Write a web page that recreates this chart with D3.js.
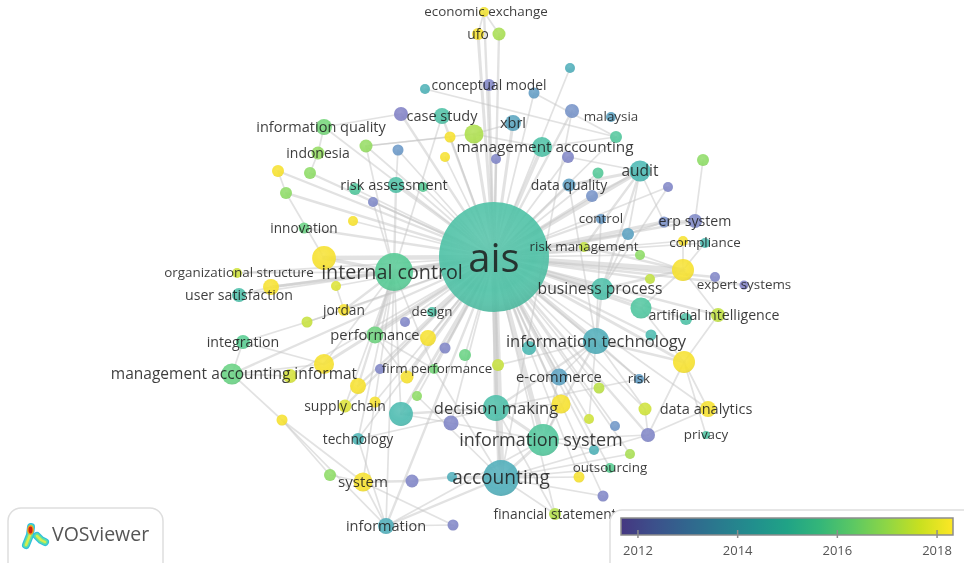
<!DOCTYPE html>
<html lang="en">
<head>
  <meta charset="utf-8">
  <title>VOSviewer overlay map</title>
  <script src="https://d3js.org/d3.v7.min.js"></script>
  <style>
    html, body { margin: 0; padding: 0; background: #fff; overflow: hidden; }
    svg { display: block; font-family: "Open Sans", sans-serif; filter: blur(0.35px); }
    .label { fill: #1c1c1c; fill-opacity: 0.86; text-anchor: middle; dominant-baseline: central; }
    .link { fill: none; stroke: #c6c6c6; stroke-opacity: 0.5; stroke-linecap: round; }
  </style>
</head>
<body>
<svg id="map" width="964" height="563"></svg>

<script>
// keywords, names starting with # are items VOSviewer left without a visible label
var keywords = [
  "economic exchange", "ufo", "#a", "conceptual model", "#b", "#c", "#d", "#e", "malaysia", "#f",
  "xbrl", "case study", "#g", "#h", "#i", "#j", "#k", "#l", "#m", "information quality",
  "indonesia", "#n", "#o", "#p", "risk assessment", "#q", "#r", "#s", "#t", "innovation",
  "#u", "internal control", "ais", "organizational structure", "management accounting", "#v", "data quality", "#w", "#x", "audit",
  "#y", "#z", "control", "#aa", "#ab", "erp system", "compliance", "#ac", "risk management", "#ad",
  "#ae", "#af", "#ag", "expert systems", "business process", "#ah", "artificial intelligence", "#ai", "#aj", "information technology",
  "#ak", "#al", "#am", "e-commerce", "risk", "#an", "decision making", "#ao", "data analytics", "#ap",
  "#aq", "#ar", "#as", "privacy", "information system", "#at", "#au", "accounting", "#av", "#aw",
  "outsourcing", "#ax", "#ay", "financial statement", "information", "#az", "system", "#ba", "technology", "#bb",
  "#bc", "#bd", "supply chain", "#be", "#bf", "#bg", "firm performance", "#bh", "#bi", "management accounting informat",
  "#bj", "#bk", "integration", "#bl", "performance", "#bm", "#bn", "#bo", "design", "#bp",
  "jordan", "#bq", "user satisfaction", "#br"
];

// map coordinates of each keyword
var mapX = [
  484, 478, 499, 489, 425, 570, 534, 572, 611, 616,
  513, 442, 401, 474, 450, 445, 496, 398, 366, 324,
  318, 278, 310, 286, 396, 355, 423, 373, 353, 304,
  324, 394, 494, 237, 542, 568, 569, 598, 592, 640,
  668, 703, 601, 628, 664, 695, 705, 683, 584, 640,
  683, 715, 650, 744, 602, 641, 718, 686, 651, 596,
  529, 684, 498, 559, 639, 599, 496, 561, 708, 645,
  589, 615, 648, 706, 543, 594, 630, 501, 452, 412,
  610, 579, 603, 555, 386, 453, 363, 330, 358, 282,
  401, 451, 345, 375, 417, 358, 434, 380, 407, 232,
  290, 324, 243, 307, 375, 428, 445, 465, 432, 405,
  344, 336, 239, 271
];
var mapY = [
  12, 34, 34, 85, 89, 68, 93, 111, 117, 137,
  123, 116, 114, 134, 137, 157, 159, 150, 146, 127,
  153, 171, 173, 193, 185, 189, 187, 202, 221, 228,
  258, 272, 257, 273, 147, 157, 185, 173, 196, 171,
  187, 160, 219, 234, 222, 221, 243, 241, 247, 255,
  270, 277, 279, 285, 289, 308, 315, 319, 335, 341,
  348, 362, 365, 377, 379, 388, 408, 404, 409, 409,
  419, 426, 435, 435, 440, 450, 454, 478, 477, 481,
  468, 477, 496, 514, 526, 525, 482, 475, 439, 420,
  414, 423, 406, 402, 396, 386, 369, 369, 377, 374,
  376, 364, 342, 322, 335, 338, 348, 355, 312, 322,
  310, 286, 295, 287
];

// occurrences set the bubble size
var occurrences = [
  2.5, 3.6, 4.2, 3.6, 2.5, 2.5, 3, 4.9, 2.5, 3.6,
  6.3, 6.3, 4.9, 9, 3, 2.5, 2.5, 3, 4.2, 6.3,
  4.2, 3.6, 3.6, 3.6, 6.3, 3.6, 2.5, 2.5, 2.5, 3,
  14, 36, 300, 2.5, 10, 3.6, 4.2, 3, 3.6, 11,
  2.5, 3.6, 2.5, 3.6, 3, 4.9, 2.5, 2.5, 2.5, 2.5,
  12, 2.5, 2.5, 2, 12, 11, 4.9, 3.6, 3, 17,
  4.9, 12, 3.6, 7.2, 2.5, 3, 17, 9, 6.3, 4.2,
  2.5, 2.5, 4.9, 1.6, 25, 2.5, 2.5, 32, 2.5, 4.2,
  2.5, 3, 3, 3.6, 6.3, 3, 9, 3.6, 3.6, 3,
  14, 5.6, 4.2, 3, 2.5, 6.3, 2.5, 2.5, 4.2, 11,
  4.9, 10, 4.9, 3, 7.2, 6.3, 3, 3.6, 2.5, 2.5,
  3.6, 2.5, 4.9, 6.3
];

// average publication year, sets the overlay colour
var avgYear = [
  2017.9, 2018, 2016.8, 2012.7, 2014.3, 2014.2, 2013.6, 2013.1, 2013.8, 2015.2,
  2013.9, 2014.9, 2012.6, 2016.9, 2018, 2018, 2012.7, 2013.4, 2016.5, 2016,
  2016.5, 2018, 2016.4, 2016.4, 2014.9, 2015.2, 2015.4, 2012.8, 2018, 2015.8,
  2018, 2015.4, 2014.9, 2017.4, 2014.9, 2012.7, 2013.7, 2015.3, 2013.1, 2014.5,
  2012.7, 2016.4, 2013.5, 2013.8, 2013, 2012.8, 2014.6, 2018, 2017.2, 2016.4,
  2018, 2012.7, 2017.2, 2012.6, 2014.8, 2015.1, 2017.2, 2014.9, 2014.6, 2014.2,
  2014.5, 2018, 2017.3, 2013.8, 2013.6, 2017.1, 2014.8, 2018, 2018, 2017.4,
  2017.4, 2013.3, 2012.7, 2015, 2015.2, 2014.3, 2016.8, 2014.2, 2014.2, 2012.7,
  2015.5, 2018, 2012.7, 2017, 2014.2, 2012.7, 2018, 2016.4, 2014.4, 2018,
  2014.6, 2012.7, 2017.6, 2018, 2016.4, 2018, 2016, 2012.7, 2018, 2015.8,
  2017.5, 2018, 2015.5, 2017.3, 2015.9, 2018, 2012.7, 2015.8, 2014.9, 2012.7,
  2018, 2017.6, 2014.8, 2018
];

// link strength between ais and the other keywords
var aisLinks = [
  ["accounting", 9], ["information system", 6], ["decision making", 5], ["internal control", 7],
  ["business process", 6], ["information technology", 5], ["#ae", 6], ["audit", 5], ["#u", 5], ["#al", 3],
  ["management accounting", 4], ["#ab", 4], ["#aa", 3], ["#x", 3], ["#ah", 3], ["#ak", 3], ["xbrl", 3], ["#h", 3],
  ["performance", 3], ["#bc", 3], ["#bk", 3], ["#n", 2], ["#p", 2], ["#o", 2], ["#bg", 2], ["e-commerce", 2],
  ["#ao", 2], ["case study", 2], ["risk assessment", 2], ["#br", 2], ["ufo", 3], ["#a", 2], ["economic exchange", 2],
  ["conceptual model", 2], ["#c", 1], ["#d", 1], ["#e", 2], ["#f", 1], ["#g", 2], ["#i", 1], ["#j", 1], ["#k", 2],
  ["#l", 1], ["#q", 1], ["#r", 1], ["#s", 1], ["#t", 1], ["innovation", 2], ["#v", 1], ["data quality", 2], ["#w", 1],
  ["#y", 1], ["control", 2], ["erp system", 2], ["compliance", 1], ["#ac", 1], ["risk management", 2], ["#ad", 1],
  ["#af", 2], ["#ag", 2], ["expert systems", 2], ["artificial intelligence", 2], ["#ai", 2], ["#aj", 2], ["#am", 2],
  ["risk", 1], ["#an", 1], ["data analytics", 1], ["#ap", 1], ["#aq", 1], ["#ar", 1], ["#as", 2], ["#at", 1], ["#au", 1],
  ["outsourcing", 1], ["#ax", 1], ["#ay", 1], ["financial statement", 1], ["information", 2], ["technology", 1],
  ["supply chain", 2], ["#be", 1], ["#bf", 1], ["firm performance", 2], ["#bh", 1], ["#bi", 2], ["#bj", 1], ["#bd", 1],
  ["#bm", 2], ["#bn", 1], ["#bo", 1], ["design", 2], ["#bp", 1], ["jordan", 2], ["#bq", 1], ["#bl", 1],
  ["management accounting informat", 2], ["information quality", 1], ["#m", 1], ["organizational structure", 1], ["user satisfaction", 1]
];

// links that do not touch ais
var otherLinks = [
  ["economic exchange", "ufo", 1], ["economic exchange", "#a", 1], ["#b", "#f", 1], ["#d", "#f", 1],
  ["information quality", "#g", 1], ["information quality", "indonesia", 1], ["indonesia", "#o", 1],
  ["#m", "#h", 1], ["#m", "#i", 1], ["#m", "internal control", 1], ["case study", "internal control", 1],
  ["#l", "risk assessment", 1], ["risk assessment", "internal control", 2], ["#s", "internal control", 1],
  ["#n", "#p", 1], ["#p", "#u", 1], ["#u", "internal control", 4], ["#br", "internal control", 3],
  ["organizational structure", "internal control", 1], ["user satisfaction", "#br", 1], ["#bq", "jordan", 1],
  ["integration", "#bl", 1], ["#bl", "jordan", 1], ["jordan", "internal control", 2], ["integration", "#bk", 1],
  ["integration", "management accounting informat", 1], ["management accounting informat", "#bk", 1],
  ["management accounting informat", "#bj", 1], ["management accounting informat", "#bb", 1],
  ["#bb", "system", 1], ["#bb", "information", 1], ["#ba", "system", 1], ["#ba", "#bb", 1],
  ["#bg", "internal control", 2], ["#bk", "internal control", 1], ["internal control", "performance", 3],
  ["internal control", "firm performance", 1], ["internal control", "#bc", 1], ["internal control", "technology", 1],
  ["internal control", "information", 1], ["internal control", "system", 1], ["supply chain", "internal control", 1],
  ["system", "#aw", 2], ["#aw", "#av", 2], ["#av", "accounting", 3], ["system", "information", 1], ["system", "#az", 1],
  ["information", "accounting", 2], ["information", "#az", 1], ["technology", "information", 1], ["technology", "decision making", 1],
  ["#bc", "decision making", 2], ["#bc", "#bd", 1], ["#bd", "information system", 1], ["accounting", "information system", 3],
  ["decision making", "information system", 3], ["accounting", "decision making", 2], ["information", "information system", 1],
  ["audit", "business process", 2], ["audit", "data quality", 3], ["audit", "risk management", 2], ["audit", "#ab", 1],
  ["audit", "#aa", 1], ["audit", "#x", 2], ["#z", "erp system", 1], ["#ae", "compliance", 1], ["#ae", "#ac", 1],
  ["#ae", "business process", 2], ["#ae", "#ah", 1], ["#ae", "artificial intelligence", 1], ["erp system", "#ab", 2],
  ["#ab", "#aa", 2], ["#aa", "business process", 1], ["#al", "artificial intelligence", 1], ["#al", "data analytics", 1],
  ["#al", "privacy", 1], ["#al", "#as", 1], ["#al", "information technology", 2], ["#al", "#ah", 1], ["data analytics", "#as", 1],
  ["#as", "#ap", 1], ["#as", "information system", 1], ["#as", "accounting", 1], ["information technology", "decision making", 2],
  ["information technology", "information system", 2], ["information technology", "business process", 2],
  ["information technology", "#ap", 1], ["e-commerce", "information system", 1], ["e-commerce", "information technology", 1],
  ["outsourcing", "accounting", 1], ["#ay", "accounting", 1], ["#ax", "accounting", 1], ["#au", "accounting", 1],
  ["financial statement", "accounting", 1], ["financial statement", "decision making", 1], ["#at", "information system", 1],
  ["#ao", "information system", 1], ["#ao", "decision making", 1], ["#f", "management accounting", 1],
  ["#e", "accounting", 1], ["management accounting", "#h", 1], ["xbrl", "#h", 1], ["#v", "audit", 1], ["#y", "business process", 1],
  ["control", "information technology", 1], ["data quality", "information technology", 1], ["risk management", "#ae", 2], ["#ad", "#ae", 1],
  ["risk", "information technology", 1], ["risk", "decision making", 1], ["#am", "information technology", 1], ["#aq", "information technology", 1],
  ["performance", "firm performance", 1], ["performance", "#bi", 1], ["accounting", "firm performance", 1], ["accounting", "#bf", 1]
];

var legendTicks = [2012, 2014, 2016, 2018];
var legendYears = [2011.67, 2018.33];

// bubbles are paler than the legend ramp in the picture
var bubbleYears = [2012.5, 2013, 2013.5, 2014, 2014.5, 2015, 2015.5, 2016, 2016.5, 2017, 2017.5, 2018];
var bubbleColors = ["#837dc4", "#7a90c8", "#669ac6", "#52a5bd", "#49b8b2", "#4dc3a2", "#56cc90", "#73d578",
  "#93dc60", "#b4e048", "#d4e236", "#f6e12e"];

// labels that sit a little off their bubble
var labelNudge = {
  "management accounting": 3, "firm performance": 3, "artificial intelligence": -4, "information quality": -3,
  "data analytics": -2, "management accounting informat": 2, "risk assessment": -2, "business process": -2,
  "information system": -2, "organizational structure": 2, "internal control": -2, "economic exchange": 2
};

// configure size of the map, legend and logo
var config = {
  w: 964,
  h: 563,
  maxR: 55,
  aisOcc: 300,
  bar: { x0: 621, x1: 953, y0: 518, y1: 535 },
  legend: { x: 610, y: 510, w: 370, h: 80 },
  logo: { x: 8, y: 508, w: 155, h: 70 }
};

var svg = d3.select("#map");
var defs = svg.append("defs");

// scales
var x = d3.scaleLinear().domain([0, config.w]).range([0, config.w]);
var y = d3.scaleLinear().domain([0, config.h]).range([0, config.h]);
var radius = d3.scaleSqrt().domain([0, config.aisOcc]).range([0, config.maxR]);
var fontSize = d3.scaleLinear().domain([5, 10, 13, 19, 55]).range([13.4, 15.3, 16.5, 19.7, 40]).clamp(true);
var linkWidth = d3.scaleLinear().domain([1, 9]).range([1.7, 7]);
var yearX = d3.scaleLinear().domain(legendYears).range([config.bar.x0, config.bar.x1]);
var yearColor = d3.scaleSequential(function(t) { return d3.interpolateViridis(0.16 + 0.84 * t); })
  .domain(legendYears);
var bubbleColor = d3.scaleLinear().domain(bubbleYears).range(bubbleColors).clamp(true);

var nodes = keywords.map(function(k, i) {
  return { key: k, x: mapX[i], y: mapY[i], occ: occurrences[i], year: avgYear[i] };
});
var byKey = new Map(nodes.map(function(d) { return [d.key, d]; }));

var links = aisLinks.map(function(d) { return ["ais", d[0], d[1]]; }).concat(otherLinks);

drawLinks(svg.append("g"), links);
drawNodes(svg.append("g"), nodes);
drawLabels(svg.append("g"), nodes);
drawLegend(svg.append("g"));
drawLogo(svg.append("g"));

function drawLinks(g, data) {
  g.selectAll("line")
    .data(data)
    .enter()
    .append("line")
    .attr("class", "link")
    .attr("x1", function(d) { return x(byKey.get(d[0]).x); })
    .attr("y1", function(d) { return y(byKey.get(d[0]).y); })
    .attr("x2", function(d) { return x(byKey.get(d[1]).x); })
    .attr("y2", function(d) { return y(byKey.get(d[1]).y); })
    .attr("stroke-width", function(d) { return linkWidth(d[2]); });
}

function drawNodes(g, data) {
  // soft shading on every bubble
  var shade = defs.append("radialGradient").attr("id", "shade")
    .attr("cx", 0.45).attr("cy", 0.35).attr("r", 0.75);
  shade.append("stop").attr("offset", 0).attr("stop-color", "#fff").attr("stop-opacity", 0.1);
  shade.append("stop").attr("offset", 0.6).attr("stop-color", "#fff").attr("stop-opacity", 0);
  shade.append("stop").attr("offset", 1).attr("stop-color", "#000").attr("stop-opacity", 0.12);

  var bubble = g.selectAll("g")
    .data(data)
    .enter()
    .append("g");
  bubble.append("circle")
    .attr("fill", function(d) { return bubbleColor(d.year); })
    .attr("fill-opacity", 0.9);
  bubble.append("circle")
    .attr("fill", "url(#shade)");
  bubble.selectAll("circle")
    .attr("cx", function(d) { return x(d.x); })
    .attr("cy", function(d) { return y(d.y); })
    .attr("r", function(d) { return radius(d.occ); });
}

function drawLabels(g, data) {
  g.selectAll("text")
    .data(data.filter(function(d) { return d.key[0] !== "#"; }))
    .enter()
    .append("text")
    .attr("class", "label")
    .attr("x", function(d) { return x(d.x) + (labelNudge[d.key] || 0); })
    .attr("y", function(d) { return y(d.y) - 1; })
    .attr("font-size", function(d) { return fontSize(radius(d.occ)); })
    .text(function(d) { return d.key; });
}

function drawLegend(g) {
  var b = config.bar, l = config.legend;
  var grad = defs.append("linearGradient").attr("id", "yearRamp");
  d3.range(0, 1.01, 0.1).forEach(function(t) {
    grad.append("stop")
      .attr("offset", t)
      .attr("stop-color", yearColor(legendYears[0] + t * (legendYears[1] - legendYears[0])));
  });

  g.append("rect")
    .attr("x", l.x).attr("y", l.y)
    .attr("width", l.w).attr("height", l.h)
    .attr("rx", 12)
    .attr("fill", "#fff")
    .attr("stroke", "#dedede")
    .attr("stroke-width", 1.5);

  g.append("rect")
    .attr("x", b.x0).attr("y", b.y0)
    .attr("width", b.x1 - b.x0).attr("height", b.y1 - b.y0)
    .attr("fill", "url(#yearRamp)")
    .attr("stroke", "#8d8d8d")
    .attr("stroke-width", 1.5);

  var axis = d3.axisBottom(yearX)
    .tickValues(legendTicks)
    .tickFormat(d3.format("d"))
    .tickSizeInner(-8)
    .tickSizeOuter(0)
    .tickPadding(8);

  var gAxis = g.append("g")
    .attr("transform", "translate(0," + (b.y1 + 3) + ")")
    .call(axis);
  gAxis.select(".domain").remove();
  gAxis.selectAll("line").attr("stroke", "#8d8d8d").attr("stroke-width", 1.5);
  gAxis.selectAll("text")
    .attr("fill", "#555")
    .style("font-size", "13px")
    .style("font-family", "'Open Sans', sans-serif");
}

function drawLogo(g) {
  var l = config.logo;
  g.append("rect")
    .attr("x", l.x).attr("y", l.y)
    .attr("width", l.w).attr("height", l.h)
    .attr("rx", 13)
    .attr("fill", "#fff")
    .attr("stroke", "#dedede")
    .attr("stroke-width", 1.5);

  // heat map glyph, layered strokes from the cold edge to the hot core
  var glyph = "M31,527 L30,535 L26,545 M37,536 L41,540 L45,542";
  var layers = [
    { c: "#2fbfe0", w: 8 },
    { c: "#62e0a0", w: 5.5 },
    { c: "#d8ec4e", w: 2.5 }
  ];
  layers.forEach(function(s) {
    g.append("path")
      .attr("d", glyph)
      .attr("fill", "none")
      .attr("stroke", s.c)
      .attr("stroke-width", s.w)
      .attr("stroke-linecap", "round")
      .attr("stroke-linejoin", "round");
  });
  g.append("ellipse").attr("cx", 30.5).attr("cy", 530).attr("rx", 3.4).attr("ry", 5).attr("fill", "#f2a020");
  g.append("ellipse").attr("cx", 30.5).attr("cy", 530).attr("rx", 2).attr("ry", 3.4).attr("fill", "#d42010");

  g.append("text")
    .attr("x", 52).attr("y", 541)
    .attr("fill", "#555")
    .attr("font-size", 19.5)
    .text("VOSviewer");
}
</script>
</body>
</html>
